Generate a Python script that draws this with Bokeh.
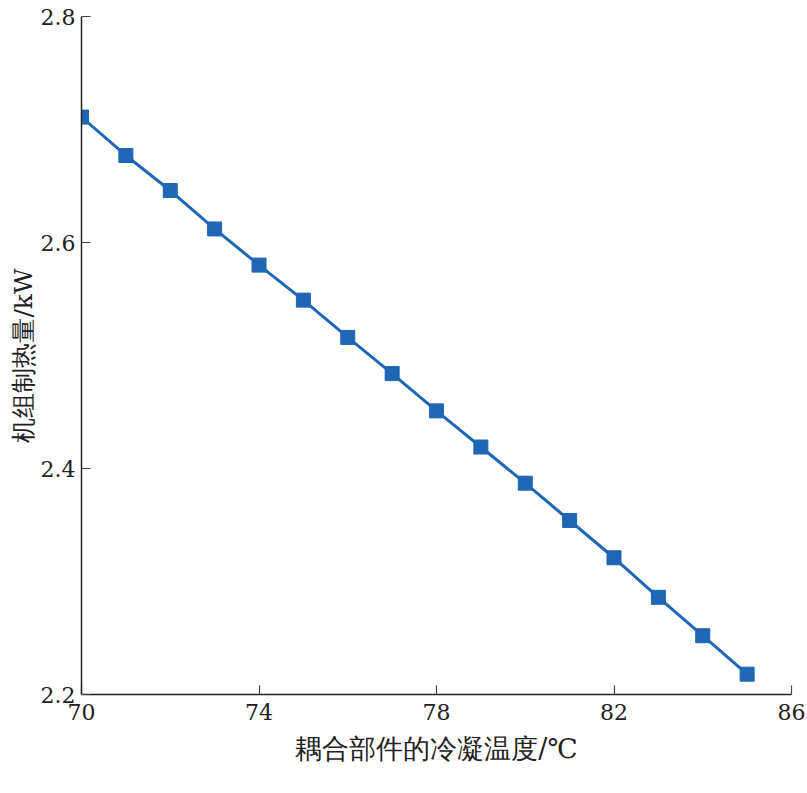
from bokeh.plotting import figure
from bokeh.models import FixedTicker, Range1d
from bokeh.embed import file_html
from bokeh.resources import INLINE

temps = [70, 71, 72, 73, 74, 75, 76, 77, 78, 79, 80, 81, 82, 83, 84, 85]
heat = [2.711, 2.677, 2.646, 2.612, 2.580, 2.549, 2.516, 2.484,
        2.451, 2.419, 2.387, 2.354, 2.321, 2.286, 2.252, 2.218]
x_ticks = [70, 74, 78, 82, 86]
y_ticks = [2.2, 2.4, 2.6, 2.8]

FONT = "DejaVu Serif"
BLUE = "#1f66b4"

p = figure(width=805, height=785, output_backend="svg", toolbar_location=None,
           x_range=Range1d(70, 86), y_range=Range1d(2.2, 2.8),
           min_border_left=81, min_border_right=14, min_border_top=16,
           min_border_bottom=91)
p.outline_line_color = None
p.grid.grid_line_color = None

p.line(temps, heat, line_color=BLUE, line_width=3)
p.scatter(temps, heat, marker="square", size=14, fill_color=BLUE, line_color=BLUE)

p.axis.axis_line_color = "#222222"
p.axis.axis_line_width = 1.5
p.axis.major_tick_line_color = "#444444"
p.axis.major_tick_line_width = 1.2
p.axis.major_tick_in = 9
p.axis.major_tick_out = 0
p.axis.minor_tick_line_color = None
p.axis.major_label_text_font = FONT
p.axis.major_label_text_font_size = "22px"
p.axis.major_label_text_color = "#222222"
p.axis.axis_label_text_font = FONT
p.axis.axis_label_text_font_style = "normal"
p.axis.axis_label_text_color = "#222222"

p.xaxis.ticker = FixedTicker(ticks=x_ticks)
p.yaxis.ticker = FixedTicker(ticks=y_ticks)
p.xaxis.major_label_standoff = 9
p.yaxis.major_label_standoff = 6
p.xaxis.axis_label = "耦合部件的冷凝温度/℃"
p.yaxis.axis_label = "机组制热量/kW"
p.xaxis.axis_label_text_font_size = "27px"
p.yaxis.axis_label_text_font_size = "25px"
p.xaxis.axis_label_standoff = 10
p.yaxis.axis_label_standoff = 0

open("out.html", "w").write(file_html(p, INLINE))
